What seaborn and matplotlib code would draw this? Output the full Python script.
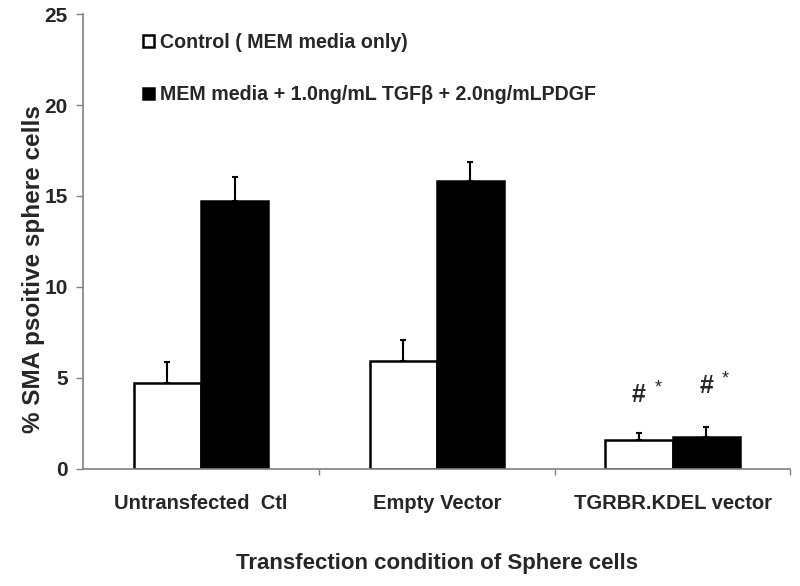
import pandas as pd
import seaborn as sns
import matplotlib.pyplot as plt
from matplotlib.ticker import FixedLocator

# values
conditions = ['Untransfected  Ctl', 'Empty Vector', 'TGRBR.KDEL vector']
treatments = ['Control ( MEM media only)',
              'MEM media + 1.0ng/mL TGF\u03b2 + 2.0ng/mLPDGF']
control_mean = [4.73, 5.93, 1.59]
control_err = [1.15, 1.16, 0.39]
treated_mean = [14.7, 15.8, 1.76]
treated_err = [1.33, 1.05, 0.55]
marks = ['#', '#']
mark_y = [4.05, 4.55]

df = pd.DataFrame({
    'condition': conditions * 2,
    'treatment': [treatments[0]] * 3 + [treatments[1]] * 3,
    'value': control_mean + treated_mean,
    'err': control_err + treated_err,
})

sns.set_style('white')
plt.rcParams['font.family'] = ['Liberation Sans', 'DejaVu Sans']
plt.rcParams['font.weight'] = 'bold'

fig = plt.figure(figsize=(8, 5.86), dpi=100)
ax = fig.add_axes([0.104, 0.2, 0.884, 0.776])

sns.barplot(data=df, x='condition', y='value', hue='treatment',
            palette=['white', 'black'], edgecolor='black', linewidth=1.8,
            width=0.57, errorbar=None, ax=ax)

# upper-only error bars
bars = [p for p in ax.patches if p.get_height() > 0]
for p, e in zip(bars, df['err']):
    xc = p.get_x() + p.get_width() / 2
    ax.errorbar(xc, p.get_height(), yerr=[[0], [e]], fmt='none',
                ecolor='black', elinewidth=1.5, capsize=2.5, capthick=1.5)

# significance marks over the third group
for p, m, y in zip(bars[2::3], marks, mark_y):
    xc = p.get_x() + p.get_width() / 2
    ax.text(xc, y, m, ha='center', va='center', fontsize=18, fontweight='bold')
    ax.text(xc + 0.08, y + 0.4, '*', ha='center', va='center',
            fontsize=13, fontweight='normal')

ax.set_xlim(-0.5, 2.5)
ax.set_ylim(0, 25)
ax.set_yticks([0, 5, 10, 15, 20, 25])
ax.tick_params(axis='y', labelsize=15, length=5, width=1, color='#808080',
               direction='out', left=True, pad=6)
ax.tick_params(axis='x', which='major', length=0, labelsize=14.5, pad=18)
ax.xaxis.set_minor_locator(FixedLocator([0.5, 1.5, 2.5]))
ax.tick_params(axis='x', which='minor', length=4, width=1, color='#808080',
               direction='out', bottom=True)

for s in ['top', 'right']:
    ax.spines[s].set_visible(False)
for s in ['left', 'bottom']:
    ax.spines[s].set_color('#808080')
    ax.spines[s].set_linewidth(1.2)

ax.set_ylabel('% SMA psoitive sphere cells', fontsize=17.5, fontweight='bold')
ax.yaxis.set_label_coords(-0.054, 0.44)
ax.set_xlabel('Transfection condition of Sphere cells', fontsize=16,
              fontweight='bold', labelpad=29)

ax.legend(loc='upper left', bbox_to_anchor=(0.06, 0.997), frameon=False,
          fontsize=14.1, handlelength=0.55, handleheight=0.55,
          handletextpad=0.3, labelspacing=1.7, title=None)

fig.savefig('out.png', dpi=100)
